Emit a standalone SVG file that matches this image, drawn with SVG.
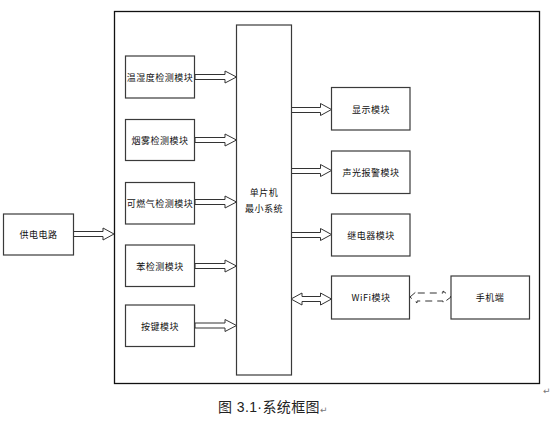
<svg xmlns="http://www.w3.org/2000/svg" width="559" height="427" viewBox="0 0 559 427">
<style>
.box{fill:#fff;stroke:#3a3a3a;stroke-width:1.2}
.frame{fill:none;stroke:#111;stroke-width:1.3}
.arr{fill:#fff;stroke:#333;stroke-width:1}
.dash{fill:none;stroke:#333;stroke-width:1;stroke-dasharray:7,5}
.t{font-family:"Noto Sans CJK SC","Liberation Sans",sans-serif;font-size:9px;fill:#111;text-anchor:middle;dominant-baseline:central;letter-spacing:0.5px}
.cap{font-family:"Liberation Sans","Noto Sans CJK SC",sans-serif;font-size:14px;fill:#222;letter-spacing:0.4px}
.ret{font-family:"DejaVu Sans",sans-serif;font-size:9px;fill:#777}
</style>
<rect width="559" height="427" fill="#fff"/>
<rect class="frame" x="114.5" y="11.5" width="425" height="372"/>
<g id="connectors">
<polygon class="arr" points="73,231.5 103,231.5 103,228 114,234 103,240 103,236.5 73,236.5"/>
<polygon class="arr" points="195,74.5 225,74.5 225,71 236.5,77 225,83 225,79.5 195,79.5"/>
<polygon class="arr" points="195,137.5 225,137.5 225,134 236.5,140 225,146 225,142.5 195,142.5"/>
<polygon class="arr" points="195,199.5 225,199.5 225,196 236.5,202 225,208 225,204.5 195,204.5"/>
<polygon class="arr" points="195,263.5 225,263.5 225,260 236.5,266 225,272 225,268.5 195,268.5"/>
<polygon class="arr" points="195,323 225,323 225,319.5 236.5,325.5 225,331.5 225,328 195,328"/>
<polygon class="arr" points="291,107.5 320.5,107.5 320.5,103.5 331.5,109.5 320.5,115.5 320.5,112.5 291,112.5"/>
<polygon class="arr" points="291,168.5 320.5,168.5 320.5,164.5 331.5,170.5 320.5,176.5 320.5,173.5 291,173.5"/>
<polygon class="arr" points="291,232.5 320.5,232.5 320.5,228.5 331.5,234.5 320.5,240.5 320.5,237.5 291,237.5"/>
<polygon class="arr" points="291,299 302,293 302,296.5 320.5,296.5 320.5,293 331.5,299 320.5,305 320.5,301.5 302,301.5 302,305"/>
<polygon class="dash" points="410,297 417,291 417,293 443,293 443,291 451,297 443,303 443,301 417,301 417,303"/>
</g>
<g id="power"><rect class="box" x="3.5" y="214" width="70" height="41"/><text class="t" x="38.5" y="234.5">供电电路</text></g>
<g id="temp"><rect class="box" x="125.5" y="56" width="69" height="42"/><text class="t" x="160" y="77">温湿度检测模块</text></g>
<g id="smoke"><rect class="box" x="125.5" y="119.5" width="69" height="41"/><text class="t" x="160" y="140">烟雾检测模块</text></g>
<g id="gas"><rect class="box" x="125.5" y="182.5" width="69" height="41.5"/><text class="t" x="160" y="203">可燃气检测模块</text></g>
<g id="benzene"><rect class="box" x="125.5" y="245" width="69" height="41.5"/><text class="t" x="160" y="266">苯检测模块</text></g>
<g id="key"><rect class="box" x="125.5" y="305" width="69" height="41.5"/><text class="t" x="160" y="326">按键模块</text></g>
<g id="mcu"><rect class="box" x="236.5" y="25" width="55" height="350"/><text class="t" x="264" y="192.5">单片机</text><text class="t" x="264" y="208">最小系统</text></g>
<g id="display"><rect class="box" x="331.5" y="87.5" width="78.5" height="42.5"/><text class="t" x="371" y="109">显示模块</text></g>
<g id="alarm"><rect class="box" x="331.5" y="151" width="78.5" height="42.5"/><text class="t" x="371" y="172">声光报警模块</text></g>
<g id="relay"><rect class="box" x="331.5" y="214" width="78.5" height="42"/><text class="t" x="371" y="235">继电器模块</text></g>
<g id="wifi"><rect class="box" x="331.5" y="276" width="78" height="43"/><text class="t" x="371" y="297.5">WiFi模块</text></g>
<g id="phone"><rect class="box" x="451" y="276" width="78.5" height="43"/><text class="t" x="490" y="297.5">手机端</text></g>
<text class="cap" x="218" y="411.5">图 3.1·系统框图</text>
<text class="ret" x="320" y="413">↵</text>
<text class="ret" x="543" y="394">↵</text>
</svg>
